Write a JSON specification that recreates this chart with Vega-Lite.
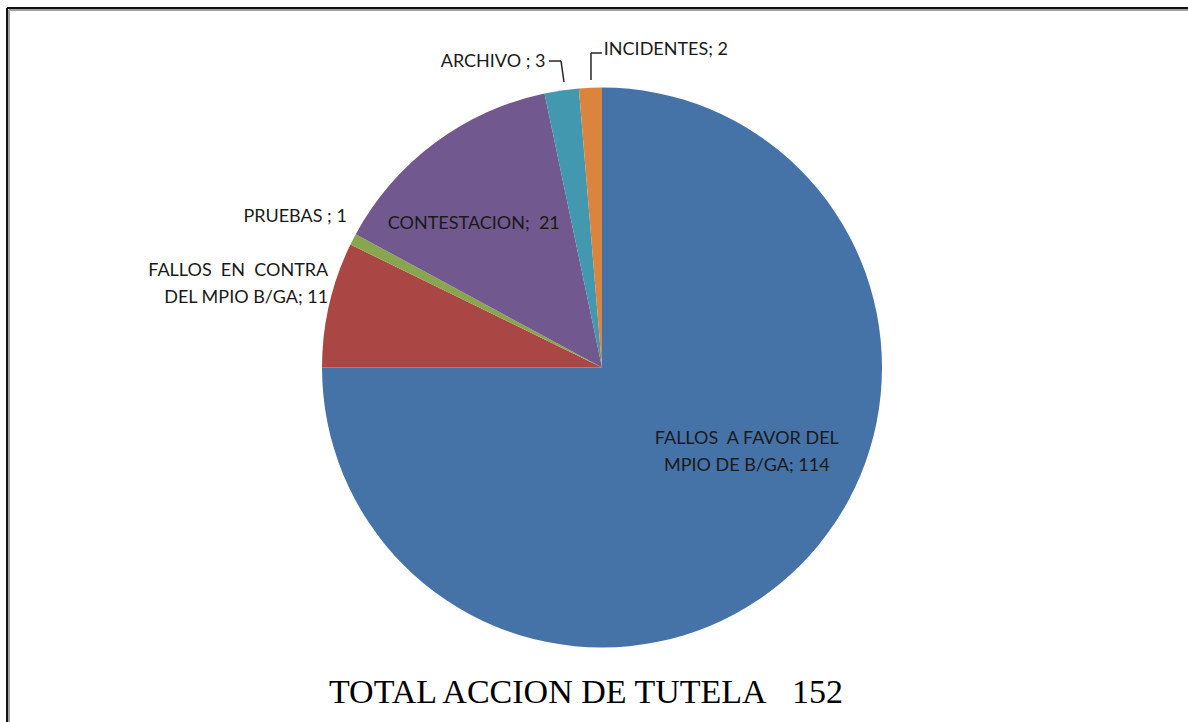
{
  "$schema": "https://vega.github.io/schema/vega-lite/v6.json",
  "width": 1172,
  "height": 709,
  "autosize": {"type": "none"},
  "padding": {"left": 16, "top": 13, "right": 0, "bottom": 0},
  "background": "white",
  "config": {"view": {"stroke": null}},
  "title": {
    "text": "TOTAL ACCION DE TUTELA\u00a0\u00a0 152",
    "orient": "bottom",
    "anchor": "middle",
    "frame": "group",
    "offset": -47,
    "dx": -16,
    "font": "Liberation Serif",
    "fontSize": 34,
    "fontWeight": "normal",
    "color": "#000000"
  },
  "data": {
    "values": [
      {"categoria": "FALLOS A FAVOR DEL MPIO DE B/GA", "valor": 114, "orden": 1, "etiqueta": "FALLOS\u00a0 A FAVOR DEL\nMPIO DE B/GA; 114"},
      {"categoria": "FALLOS EN CONTRA DEL MPIO B/GA", "valor": 11, "orden": 2, "etiqueta": "FALLOS\u00a0 EN\u00a0 CONTRA\nDEL MPIO B/GA; 11"},
      {"categoria": "PRUEBAS", "valor": 1, "orden": 3, "etiqueta": "PRUEBAS ; 1"},
      {"categoria": "CONTESTACION", "valor": 21, "orden": 4, "etiqueta": "CONTESTACION;\u00a0 21"},
      {"categoria": "ARCHIVO", "valor": 3, "orden": 5, "etiqueta": "ARCHIVO ; 3"},
      {"categoria": "INCIDENTES", "valor": 2, "orden": 6, "etiqueta": "INCIDENTES; 2"}
    ]
  },
  "layer": [
    {
      "data": {"values": [{"borde": "izquierdo-sombra"}]},
      "mark": {"type": "rule", "color": "#a0a0a0", "strokeWidth": 2},
      "encoding": {
        "x": {"datum": -2.117857, "type": "quantitative", "axis": null, "scale": {"domain": [-2.092857, 2.092857], "nice": false, "zero": false}},
        "y": {"datum": 1.276786, "type": "quantitative", "axis": null, "scale": {"domain": [-1.266071, 1.266071], "nice": false, "zero": false}},
        "y2": {"datum": -1.266071}
      }
    },
    {
      "data": {"values": [{"borde": "superior-sombra"}]},
      "mark": {"type": "rule", "color": "#a0a0a0", "strokeWidth": 2},
      "encoding": {
        "x": {"datum": -2.117857, "type": "quantitative", "axis": null, "scale": {"domain": [-2.092857, 2.092857], "nice": false, "zero": false}},
        "x2": {"datum": 2.3},
        "y": {"datum": 1.276786, "type": "quantitative", "axis": null, "scale": {"domain": [-1.266071, 1.266071], "nice": false, "zero": false}}
      }
    },
    {
      "data": {"values": [{"borde": "izquierdo"}]},
      "mark": {"type": "rule", "color": "#111111", "strokeWidth": 2},
      "encoding": {
        "x": {"datum": -2.125, "type": "quantitative", "axis": null, "scale": {"domain": [-2.092857, 2.092857], "nice": false, "zero": false}},
        "y": {"datum": 1.283929, "type": "quantitative", "axis": null, "scale": {"domain": [-1.266071, 1.266071], "nice": false, "zero": false}},
        "y2": {"datum": -1.266071}
      }
    },
    {
      "data": {"values": [{"borde": "superior"}]},
      "mark": {"type": "rule", "color": "#111111", "strokeWidth": 2},
      "encoding": {
        "x": {"datum": -2.125, "type": "quantitative", "axis": null, "scale": {"domain": [-2.092857, 2.092857], "nice": false, "zero": false}},
        "x2": {"datum": 2.3},
        "y": {"datum": 1.283929, "type": "quantitative", "axis": null, "scale": {"domain": [-1.266071, 1.266071], "nice": false, "zero": false}}
      }
    },
    {
      "mark": {"type": "arc", "outerRadius": 280},
      "encoding": {
        "theta": {"field": "valor", "type": "quantitative", "stack": true},
        "order": {"field": "orden", "type": "quantitative"},
        "color": {
          "field": "categoria",
          "type": "nominal",
          "legend": null,
          "scale": {
            "domain": ["FALLOS A FAVOR DEL MPIO DE B/GA", "FALLOS EN CONTRA DEL MPIO B/GA", "PRUEBAS", "CONTESTACION", "ARCHIVO", "INCIDENTES"],
            "range": ["#4572A7", "#AA4643", "#89A54E", "#71588F", "#4198AF", "#DB843D"]
          }
        }
      }
    },
    {
      "mark": {"type": "text", "radius": 168, "dx": 26, "dy": -47, "align": "center", "baseline": "middle", "font": "Lato", "fontSize": 18, "lineBreak": "\n", "lineHeight": 27, "color": "#1a1a1a"},
      "encoding": {
        "theta": {"field": "valor", "type": "quantitative", "stack": true},
        "order": {"field": "orden", "type": "quantitative"},
        "text": {"condition": {"test": "datum.orden === 1", "field": "etiqueta"}, "value": ""}
      }
    },
    {
      "mark": {"type": "text", "radius": 281, "dx": 0, "dy": -33, "align": "right", "baseline": "middle", "font": "Lato", "fontSize": 18, "lineBreak": "\n", "lineHeight": 27, "color": "#1a1a1a"},
      "encoding": {
        "theta": {"field": "valor", "type": "quantitative", "stack": true},
        "order": {"field": "orden", "type": "quantitative"},
        "text": {"condition": {"test": "datum.orden === 2", "field": "etiqueta"}, "value": ""}
      }
    },
    {
      "mark": {"type": "text", "radius": 287, "dx": 0, "dy": -19, "align": "right", "baseline": "middle", "font": "Lato", "fontSize": 18, "color": "#1a1a1a"},
      "encoding": {
        "theta": {"field": "valor", "type": "quantitative", "stack": true},
        "order": {"field": "orden", "type": "quantitative"},
        "text": {"condition": {"test": "datum.orden === 3", "field": "etiqueta"}, "value": ""}
      }
    },
    {
      "mark": {"type": "text", "radius": 181, "dx": -20, "dy": 2, "align": "center", "baseline": "middle", "font": "Lato", "fontSize": 18, "color": "#1a1a1a"},
      "encoding": {
        "theta": {"field": "valor", "type": "quantitative", "stack": true},
        "order": {"field": "orden", "type": "quantitative"},
        "text": {"condition": {"test": "datum.orden === 4", "field": "etiqueta"}, "value": ""}
      }
    },
    {
      "mark": {"type": "text", "radius": 309, "dx": -12, "dy": 0, "align": "right", "baseline": "middle", "font": "Lato", "fontSize": 18, "color": "#1a1a1a"},
      "encoding": {
        "theta": {"field": "valor", "type": "quantitative", "stack": true},
        "order": {"field": "orden", "type": "quantitative"},
        "text": {"condition": {"test": "datum.orden === 5", "field": "etiqueta"}, "value": ""}
      }
    },
    {
      "mark": {"type": "text", "radius": 319, "dx": 15, "dy": 1, "align": "left", "baseline": "middle", "font": "Lato", "fontSize": 18, "color": "#1a1a1a"},
      "encoding": {
        "theta": {"field": "valor", "type": "quantitative", "stack": true},
        "order": {"field": "orden", "type": "quantitative"},
        "text": {"condition": {"test": "datum.orden === 6", "field": "etiqueta"}, "value": ""}
      }
    },
    {
      "data": {"values": [{"guia": "archivo-h"}]},
      "mark": {"type": "rule", "color": "#262626", "strokeWidth": 1.5},
      "encoding": {
        "x": {"datum": -0.1893, "type": "quantitative", "axis": null, "scale": {"domain": [-2.092857, 2.092857], "nice": false, "zero": false}},
        "x2": {"datum": -0.1464},
        "y": {"datum": 1.0946, "type": "quantitative", "axis": null, "scale": {"domain": [-1.266071, 1.266071], "nice": false, "zero": false}},
        "y2": {"datum": 1.0946}
      }
    },
    {
      "data": {"values": [{"guia": "archivo-v"}]},
      "mark": {"type": "rule", "color": "#262626", "strokeWidth": 1.5},
      "encoding": {
        "x": {"datum": -0.1464, "type": "quantitative", "axis": null, "scale": {"domain": [-2.092857, 2.092857], "nice": false, "zero": false}},
        "x2": {"datum": -0.1357},
        "y": {"datum": 1.0946, "type": "quantitative", "axis": null, "scale": {"domain": [-1.266071, 1.266071], "nice": false, "zero": false}},
        "y2": {"datum": 1.0196}
      }
    },
    {
      "data": {"values": [{"guia": "incidentes-h"}]},
      "mark": {"type": "rule", "color": "#262626", "strokeWidth": 1.5},
      "encoding": {
        "x": {"datum": -0.0393, "type": "quantitative", "axis": null, "scale": {"domain": [-2.092857, 2.092857], "nice": false, "zero": false}},
        "x2": {"datum": 0.0},
        "y": {"datum": 1.1232, "type": "quantitative", "axis": null, "scale": {"domain": [-1.266071, 1.266071], "nice": false, "zero": false}},
        "y2": {"datum": 1.1232}
      }
    },
    {
      "data": {"values": [{"guia": "incidentes-v"}]},
      "mark": {"type": "rule", "color": "#262626", "strokeWidth": 1.5},
      "encoding": {
        "x": {"datum": -0.0393, "type": "quantitative", "axis": null, "scale": {"domain": [-2.092857, 2.092857], "nice": false, "zero": false}},
        "x2": {"datum": -0.0393},
        "y": {"datum": 1.1232, "type": "quantitative", "axis": null, "scale": {"domain": [-1.266071, 1.266071], "nice": false, "zero": false}},
        "y2": {"datum": 1.0268}
      }
    }
  ]
}
